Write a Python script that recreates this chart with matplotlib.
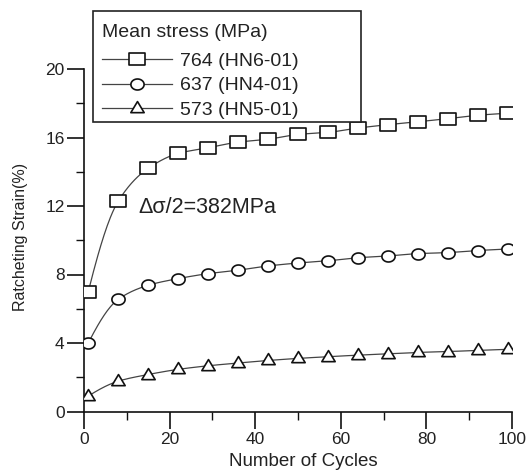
import numpy as np
import matplotlib
matplotlib.use("Agg")
import matplotlib.pyplot as plt
from matplotlib.patches import Rectangle
from matplotlib.lines import Line2D
from matplotlib.path import Path
from matplotlib.ticker import MultipleLocator

plt.rcParams['font.family'] = ['Liberation Sans', 'DejaVu Sans']

cycles = [1, 8, 15, 22, 29, 36, 43, 50, 57, 64, 71, 78, 85, 92, 99]
strain_764 = [7.0, 12.28, 14.2, 15.07, 15.4, 15.73, 15.9, 16.18, 16.3, 16.55, 16.75, 16.92, 17.1, 17.3, 17.42]
strain_637 = [4.0, 6.55, 7.37, 7.76, 8.05, 8.25, 8.5, 8.67, 8.8, 8.98, 9.08, 9.22, 9.28, 9.4, 9.49]
strain_573 = [0.9, 1.77, 2.16, 2.46, 2.67, 2.83, 2.98, 3.1, 3.2, 3.29, 3.37, 3.45, 3.5, 3.57, 3.63]
labels = ['764 (HN6-01)', '637 (HN4-01)', '573 (HN5-01)']
legend_title = 'Mean stress (MPa)'
annotation = 'Δσ/2=382MPa'

# slightly wide marker shapes (the reference image is stretched horizontally)
sq = Path([(-1.2, -1), (1.2, -1), (1.2, 1), (-1.2, 1), (-1.2, -1)],
          [Path.MOVETO, Path.LINETO, Path.LINETO, Path.LINETO, Path.CLOSEPOLY])
th = np.linspace(0, 2 * np.pi, 65)
ell = Path(np.column_stack([1.2 * np.cos(th), np.sin(th)]), closed=True)
tri = Path([(-1.2, -0.75), (1.2, -0.75), (0, 1.25), (-1.2, -0.75)],
           [Path.MOVETO, Path.LINETO, Path.LINETO, Path.CLOSEPOLY])
markers = [sq, ell, tri]
msizes = [11, 9.5, 10]


def pchip(x, y, xs):
    x = np.asarray(x, float); y = np.asarray(y, float)
    h = np.diff(x); d = np.diff(y) / h
    n = len(x); m = np.zeros(n)
    for k in range(1, n - 1):
        if d[k - 1] * d[k] > 0:
            w1 = 2 * h[k] + h[k - 1]; w2 = h[k] + 2 * h[k - 1]
            m[k] = (w1 + w2) / (w1 / d[k - 1] + w2 / d[k])
    m[0] = ((2 * h[0] + h[1]) * d[0] - h[0] * d[1]) / (h[0] + h[1])
    if np.sign(m[0]) != np.sign(d[0]):
        m[0] = 0
    elif np.sign(d[0]) != np.sign(d[1]) and abs(m[0]) > abs(3 * d[0]):
        m[0] = 3 * d[0]
    m[-1] = d[-1]
    idx = np.clip(np.searchsorted(x, xs) - 1, 0, n - 2)
    t = (xs - x[idx]) / h[idx]
    h00 = 2 * t**3 - 3 * t**2 + 1; h10 = t**3 - 2 * t**2 + t
    h01 = -2 * t**3 + 3 * t**2; h11 = t**3 - t**2
    return h00 * y[idx] + h10 * h[idx] * m[idx] + h01 * y[idx + 1] + h11 * h[idx] * m[idx + 1]


W, H = 529, 470
fig = plt.figure(figsize=(W / 100, H / 100), dpi=100)
ax = fig.add_axes([84 / W, 1 - 411.5 / H, (512 - 84) / W, (411.5 - 69) / H])

xs = np.linspace(cycles[0], cycles[-1], 400)
handles = []
for ys, mk, ms, lab in zip([strain_764, strain_637, strain_573], markers, msizes, labels):
    ax.plot(xs, pchip(cycles, ys, xs), color='#444444', lw=0.9, zorder=2)
    ax.plot(cycles, ys, linestyle='none', marker=mk, markersize=ms,
            markerfacecolor='white', markeredgecolor='#111111', markeredgewidth=1.2, zorder=3)
    handles.append(Line2D([], [], color='#444444', lw=0.9, marker=mk,
                          markersize=ms, markerfacecolor='white',
                          markeredgecolor='#111111', markeredgewidth=1.2))

ax.set_xlim(0, 100)
ax.set_ylim(0, 20)
ax.xaxis.set_major_locator(MultipleLocator(20))
ax.xaxis.set_minor_locator(MultipleLocator(10))
ax.yaxis.set_major_locator(MultipleLocator(4))
ax.yaxis.set_minor_locator(MultipleLocator(2))
for s in ['top', 'right']:
    ax.spines[s].set_visible(False)
for s in ['left', 'bottom']:
    ax.spines[s].set_linewidth(1.2)
    ax.spines[s].set_color('#111111')
ax.tick_params(which='major', direction='out', length=12, width=1.2, labelsize=12.5,
               colors='#111111', labelcolor='#222222')
ax.tick_params(which='minor', direction='out', length=6, width=1.0, colors='#111111')
ax.tick_params(axis='x', pad=3)
ax.tick_params(axis='y', pad=2)
ax.set_xlabel('Number of Cycles', fontsize=13.5, color='#222222')
ax.set_ylabel('Ratcheting Strain(%)', fontsize=11.5, color='#222222')
ax.xaxis.set_label_coords((303 - 84) / 428, (411.5 - 462) / 342.5)
ax.yaxis.set_label_coords((20 - 84) / 428, (411.5 - 237) / 342.5)
ax.xaxis.label.set_va('center')
ax.yaxis.label.set_va('center')

ax.text(12.6, 11.9, annotation, fontsize=15.5, color='#222222', va='center', ha='left')

# legend box
fig.patches.append(Rectangle((93 / W, 1 - 122 / H), (361 - 93) / W, (122 - 11) / H,
                             transform=fig.transFigure, fill=True, facecolor='white',
                             edgecolor='#222222', lw=1.2, zorder=5))
leg = fig.legend(handles, labels, title=legend_title, loc='upper left',
                 bbox_to_anchor=(102 / W, 1 - 24 / H), frameon=False, fontsize=14,
                 title_fontsize=14, handlelength=3.6, handletextpad=0.4,
                 labelspacing=0.36, borderpad=0.0, borderaxespad=0)
leg._legend_box.align = 'left'
leg._legend_box.sep = 8
leg.set_zorder(6)
for t in leg.get_texts():
    t.set_color('#222222')
leg.get_title().set_color('#222222')

fig.savefig('out.png', dpi=100)
